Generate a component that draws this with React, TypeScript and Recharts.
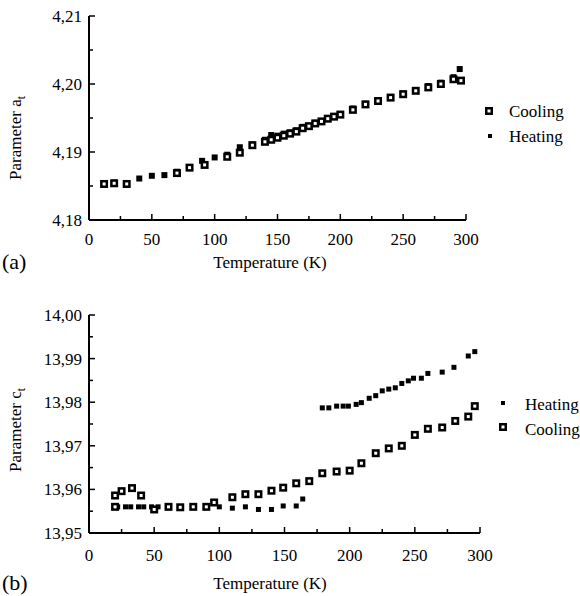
import { ScatterChart, Scatter, XAxis, YAxis } from 'recharts'

// (a) lattice parameter a_t
const aCoolT = [12, 20, 30, 70, 80, 92, 110, 120, 130, 140, 145, 150, 155, 160, 165, 170, 175, 180, 185, 190, 195, 200, 210, 220, 230, 240, 250, 260, 270, 280, 290, 296]
const aCoolV = [4.1853, 4.1854, 4.1853, 4.1869, 4.1877, 4.1881, 4.1893, 4.1899, 4.191, 4.1915, 4.1918, 4.1921, 4.1924, 4.1927, 4.193, 4.1935, 4.1938, 4.1942, 4.1945, 4.1949, 4.1952, 4.1955, 4.1962, 4.197, 4.1975, 4.198, 4.1985, 4.199, 4.1995, 4.2, 4.2007, 4.2005]
const aHeatT = [12, 20, 30, 40, 50, 60, 70, 80, 90, 100, 110, 120, 130, 140, 145, 150, 155, 160, 165, 170, 180, 190, 200, 210, 220, 230, 240, 250, 260, 270, 280, 290, 295]
const aHeatV = [4.1854, 4.1855, 4.1854, 4.1861, 4.1865, 4.1866, 4.1871, 4.1877, 4.1887, 4.1892, 4.1896, 4.1907, 4.1911, 4.1918, 4.1925, 4.1924, 4.1927, 4.1929, 4.1932, 4.1937, 4.1943, 4.195, 4.1956, 4.1964, 4.1971, 4.1976, 4.1981, 4.1986, 4.1991, 4.1997, 4.2002, 4.201, 4.2022]

// (b) lattice parameter c_t
const cCoolT = [20, 20, 25, 33, 40, 50, 61, 70, 80, 90, 96, 110, 120, 130, 140, 149, 159, 169, 179, 190, 200, 209, 220, 230, 240, 250, 260, 271, 281, 291, 296]
const cCoolV = [13.9586, 13.956, 13.9596, 13.9603, 13.9586, 13.9554, 13.956, 13.9559, 13.956, 13.956, 13.957, 13.9582, 13.9589, 13.9589, 13.9597, 13.9604, 13.9614, 13.9619, 13.9637, 13.9641, 13.9643, 13.966, 13.9683, 13.9694, 13.97, 13.9725, 13.9739, 13.9742, 13.9757, 13.9767, 13.9791]
const cHeatT = [22, 28, 32, 38, 42, 48, 53, 100, 110, 120, 130, 140, 149, 159, 164, 179, 184, 190, 195, 199, 205, 209, 215, 220, 225, 230, 235, 240, 245, 249, 255, 260, 271, 280, 291, 296]
const cHeatV = [13.956, 13.956, 13.956, 13.956, 13.956, 13.956, 13.956, 13.956, 13.9557, 13.956, 13.9554, 13.9554, 13.9562, 13.9562, 13.9578, 13.9787, 13.9787, 13.9791, 13.9791, 13.9791, 13.9795, 13.9799, 13.9809, 13.9815, 13.9826, 13.983, 13.9833, 13.9843, 13.9849, 13.9855, 13.9855, 13.9866, 13.9869, 13.988, 13.9906, 13.9916]

const tempTicks = [0, 25, 50, 75, 100, 125, 150, 175, 200, 225, 250, 275, 300]
const aTicks = [4.18, 4.185, 4.19, 4.195, 4.2, 4.205, 4.21]
const cTicks = [13.95, 13.955, 13.96, 13.965, 13.97, 13.975, 13.98, 13.985, 13.99, 13.995, 14.0]

const toPoints = (xs: number[], ys: number[]) => xs.map((t, i) => ({ t, v: ys[i] }))

const FONT = '"Liberation Serif", "Times New Roman", serif'

const CoolMark = (props: any) => {
  const { cx, cy } = props
  if (cx == null || cy == null) return <g />
  return (
    <g>
      <rect x={cx - 4} y={cy - 4} width={8} height={8} fill="#000" />
      <rect x={cx - 1.5} y={cy - 1.5} width={3} height={3} fill="#fff" />
    </g>
  )
}

const makeHeatMark = (s: number) => (props: any) => {
  const { cx, cy } = props
  if (cx == null || cy == null) return <g />
  return <rect x={cx - s / 2} y={cy - s / 2} width={s} height={s} fill="#000" />
}

const makeXTick = (labelDy: number) => (props: any) => {
  const { x, y, payload } = props
  const v = payload.value
  const major = v % 50 === 0
  return (
    <g>
      <line x1={x} y1={y} x2={x} y2={y - (major ? 6 : 4)} stroke="#000" strokeWidth={1.5} />
      {major && (
        <text x={x} y={y + labelDy} textAnchor="middle" fontSize={17} fontFamily={FONT} fill="#000">
          {v}
        </text>
      )}
    </g>
  )
}

const YTick = (props: any) => {
  const { x, y, payload } = props
  const v = payload.value
  const major = Math.abs(Math.round(v * 100) - v * 100) < 1e-6
  return (
    <g>
      <line x1={x} y1={y} x2={x + (major ? 6 : 4)} y2={y} stroke="#000" strokeWidth={1.5} />
      {major && (
        <text x={x - 7} y={y + 6} textAnchor="end" fontSize={17} fontFamily={FONT} fill="#000">
          {v.toFixed(2).replace('.', ',')}
        </text>
      )}
    </g>
  )
}

function Panel({
  cool,
  heat,
  yDomain,
  yTicks,
  height,
  margin,
  heatSize,
  labelDy,
}: {
  cool: { t: number; v: number }[]
  heat: { t: number; v: number }[]
  yDomain: [number, number]
  yTicks: number[]
  height: number
  margin: { top: number; right: number; bottom: number; left: number }
  heatSize: number
  labelDy: number
}) {
  return (
    <ScatterChart width={580} height={height} margin={margin}>
      <XAxis
        dataKey="t"
        type="number"
        domain={[0, 300]}
        ticks={tempTicks}
        interval={0}
        tickSize={0}
        tickMargin={0}
        tickLine={false}
        tick={makeXTick(labelDy)}
        axisLine={{ stroke: '#000', strokeWidth: 2 }}
        height={30}
      />
      <XAxis xAxisId="top" orientation="top" type="number" domain={[0, 300]} tick={false} tickLine={false} height={0} axisLine={{ stroke: '#000', strokeWidth: 1 }} />
      <YAxis
        dataKey="v"
        type="number"
        domain={yDomain}
        ticks={yTicks}
        interval={0}
        tickSize={0}
        tickMargin={0}
        tickLine={false}
        tick={YTick}
        axisLine={{ stroke: '#000', strokeWidth: 2 }}
        width={60}
      />
      <YAxis yAxisId="right" orientation="right" type="number" domain={yDomain} tick={false} tickLine={false} width={0} axisLine={{ stroke: '#000', strokeWidth: 1 }} />
      <Scatter data={heat} shape={makeHeatMark(heatSize)} isAnimationActive={false} />
      <Scatter data={cool} shape={CoolMark} isAnimationActive={false} />
    </ScatterChart>
  )
}

export default function App() {
  const textStyle = { fontFamily: FONT, fill: '#000' }
  return (
    <div style={{ position: 'absolute', left: 0, top: 0, width: 580, height: 596, background: '#fff' }}>
      <div style={{ position: 'absolute', left: 0, top: 0 }}>
        <Panel
          cool={toPoints(aCoolT, aCoolV)}
          heat={toPoints(aHeatT, aHeatV)}
          yDomain={[4.18, 4.21]}
          yTicks={aTicks}
          height={300}
          margin={{ top: 16, right: 114, bottom: 50, left: 29 }}
          heatSize={6}
          labelDy={25}
        />
      </div>
      <div style={{ position: 'absolute', left: 0, top: 290 }}>
        <Panel
          cool={toPoints(cCoolT, cCoolV)}
          heat={toPoints(cHeatT, cHeatV)}
          yDomain={[13.95, 14.0]}
          yTicks={cTicks}
          height={306}
          margin={{ top: 25, right: 100, bottom: 33, left: 29 }}
          heatSize={5}
          labelDy={28}
        />
      </div>
      <svg width={580} height={596} style={{ position: 'absolute', left: 0, top: 0, pointerEvents: 'none' }}>
        {/* panel (a) */}
        <text transform="translate(21,138) rotate(-90)" textAnchor="middle" fontSize={17} {...textStyle}>
          Parameter a<tspan dy={4} fontSize={12}>t</tspan>
        </text>
        <text x={270} y={268} textAnchor="middle" fontSize={17} {...textStyle}>Temperature (K)</text>
        <text x={2} y={269} fontSize={22} {...textStyle}>(a)</text>
        <rect x={485} y={107} width={8} height={8} fill="#000" />
        <rect x={487.5} y={109.5} width={3} height={3} fill="#fff" />
        <text x={509} y={117} fontSize={17} {...textStyle}>Cooling</text>
        <rect x={488} y={134} width={4} height={4} fill="#000" />
        <text x={509} y={142} fontSize={17} {...textStyle}>Heating</text>

        {/* panel (b) */}
        <text transform="translate(21,430) rotate(-90)" textAnchor="middle" fontSize={17} {...textStyle}>
          Parameter c<tspan dy={4} fontSize={12}>t</tspan>
        </text>
        <text x={270} y={589} textAnchor="middle" fontSize={17} {...textStyle}>Temperature (K)</text>
        <text x={2} y={590} fontSize={22} {...textStyle}>(b)</text>
        <rect x={501} y={401} width={4} height={4} fill="#000" />
        <text x={525} y={410} fontSize={17} {...textStyle}>Heating</text>
        <rect x={499} y={423} width={8} height={8} fill="#000" />
        <rect x={501.5} y={425.5} width={3} height={3} fill="#fff" />
        <text x={525} y={435} fontSize={17} {...textStyle}>Cooling</text>
      </svg>
    </div>
  )
}
